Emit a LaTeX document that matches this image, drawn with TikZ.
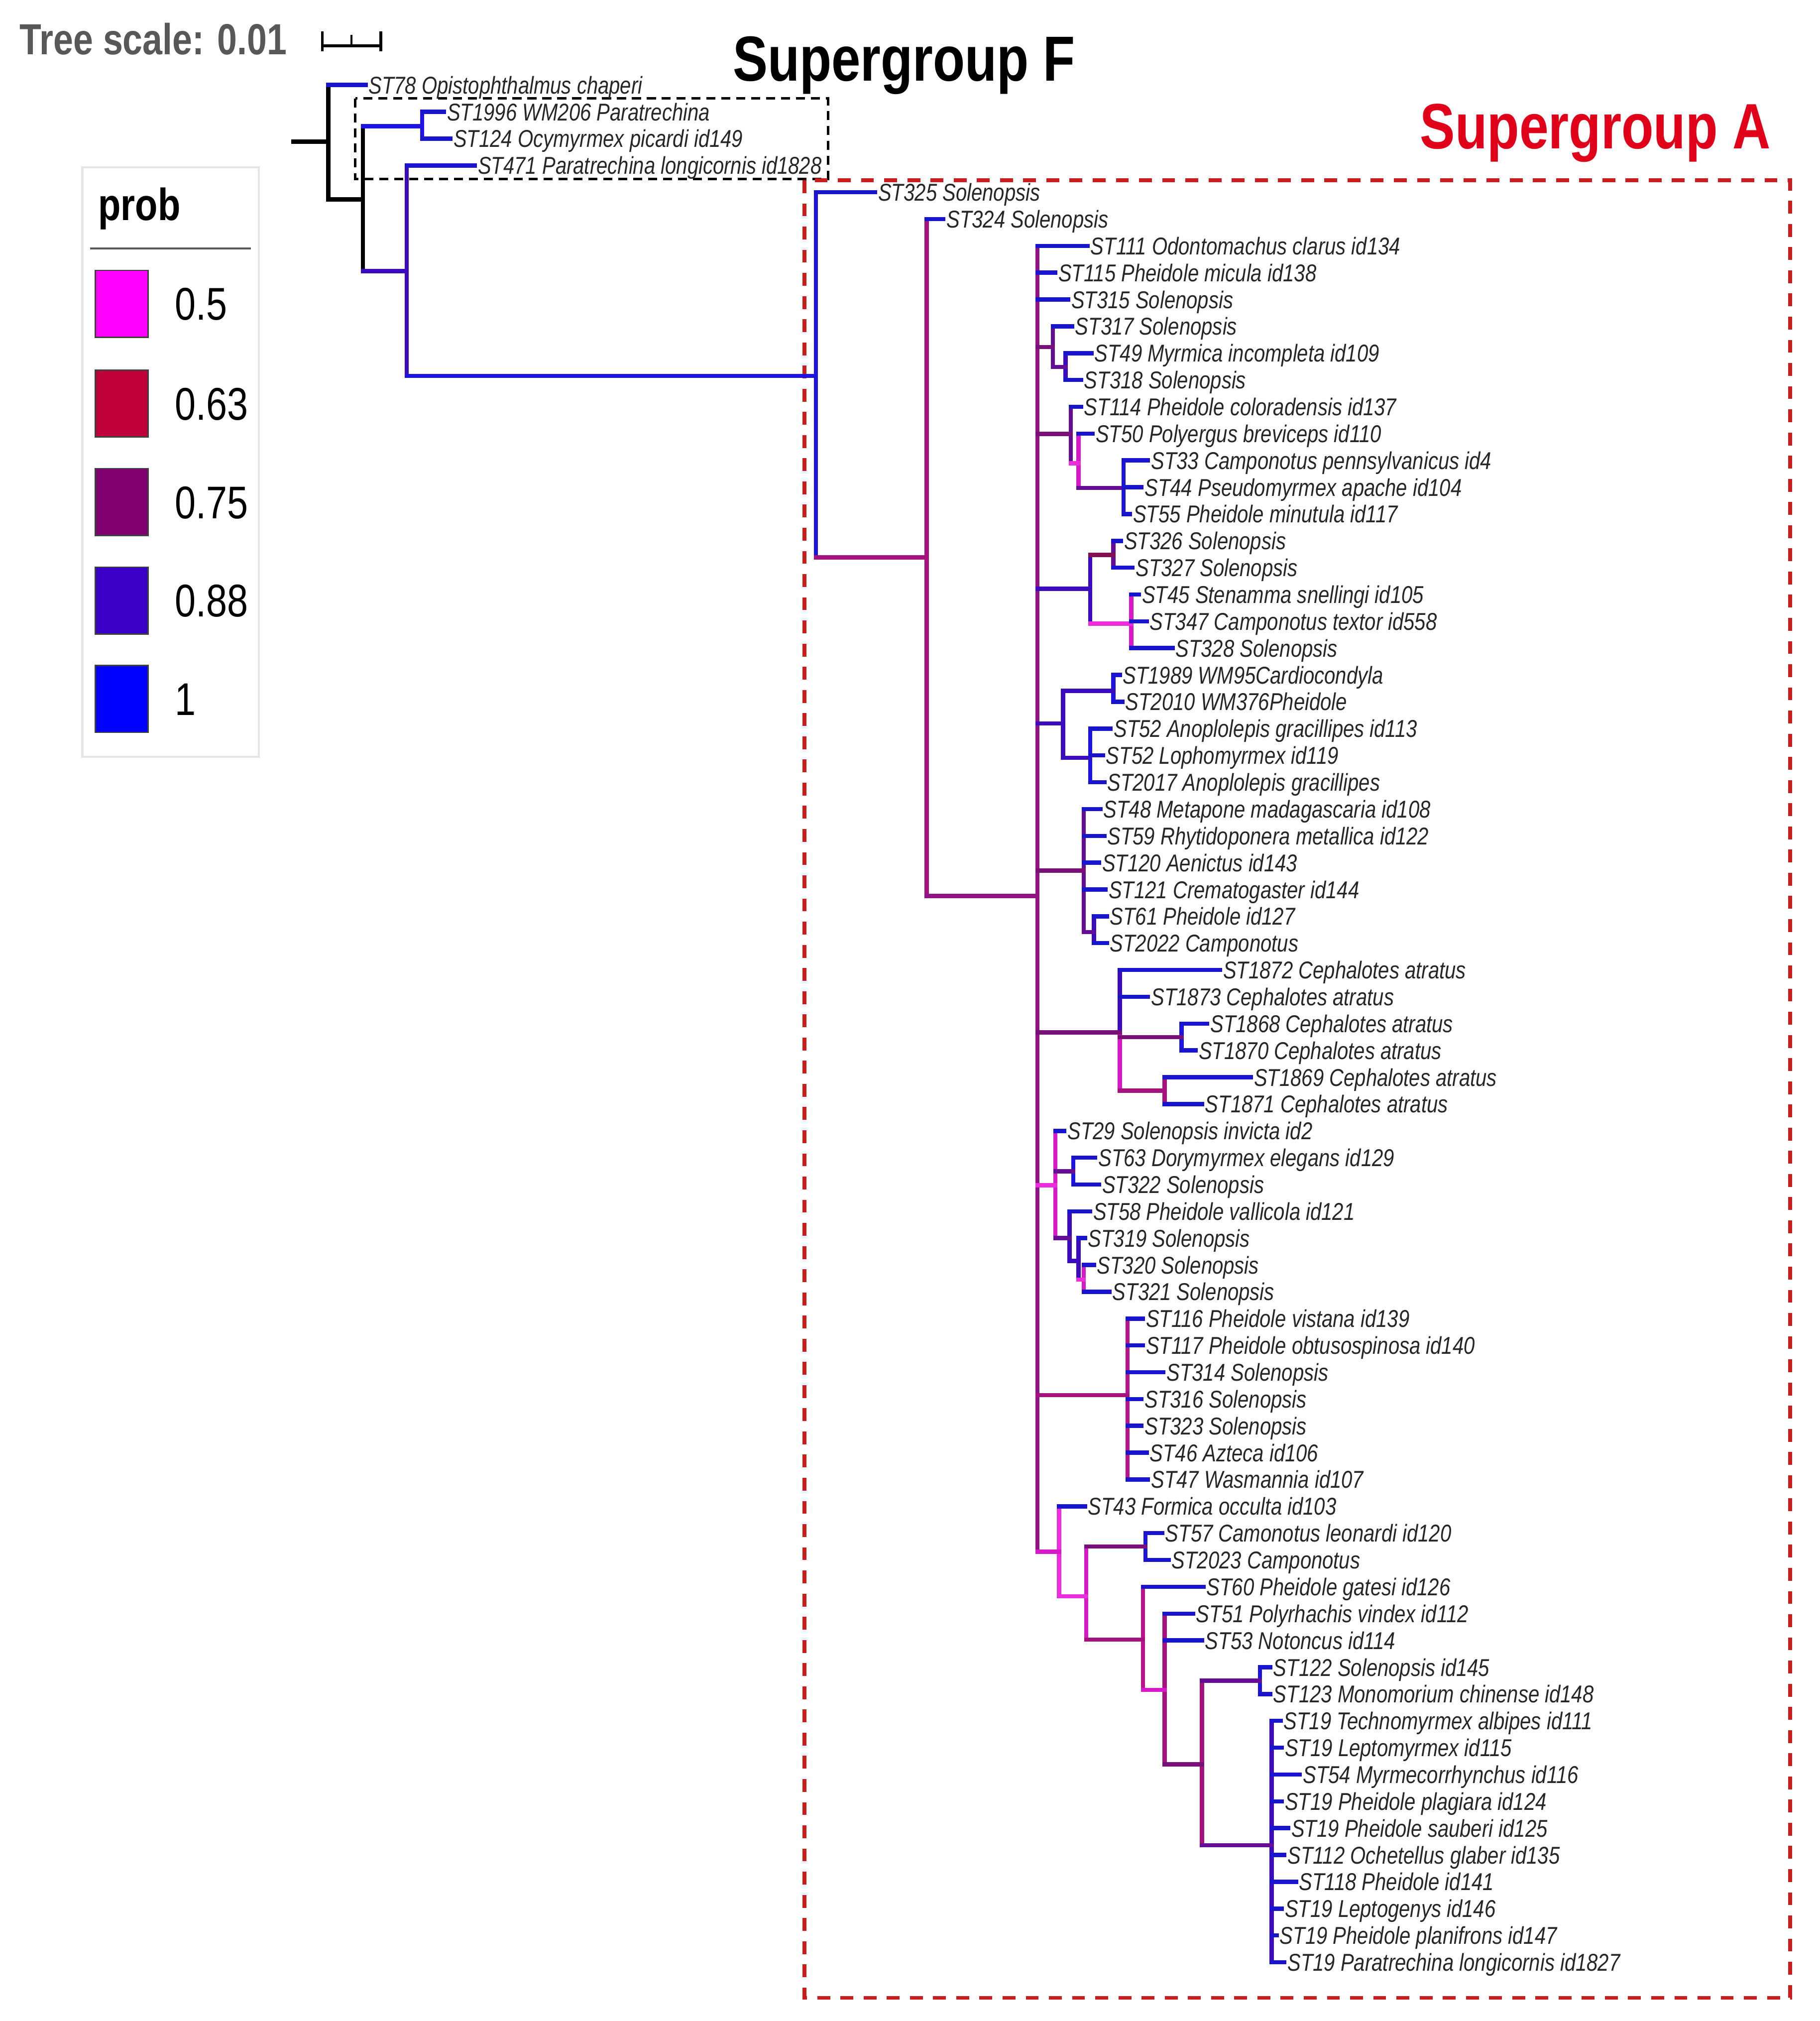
\documentclass[tikz,border=0pt]{standalone}
\usepackage{fontspec}
\setmainfont{Liberation Sans}[FakeStretch=0.82]
\definecolor{lf}{RGB}{25,20,205}
\definecolor{bl}{RGB}{30,20,225}
\definecolor{ind}{RGB}{58,12,190}
\definecolor{pu}{RGB}{100,14,150}
\definecolor{dp}{RGB}{120,16,120}
\definecolor{cp}{RGB}{145,18,130}
\definecolor{mp}{RGB}{165,18,125}
\definecolor{mq}{RGB}{185,20,140}
\definecolor{mg}{RGB}{215,25,200}
\definecolor{pk}{RGB}{235,45,220}
\definecolor{dr}{RGB}{130,16,80}
\definecolor{cA}{RGB}{255,0,255}
\definecolor{cB}{RGB}{192,0,58}
\definecolor{cC}{RGB}{128,0,112}
\definecolor{cD}{RGB}{58,0,200}
\definecolor{cE}{RGB}{0,0,255}
\definecolor{sgred}{RGB}{225,0,25}
\definecolor{boxred}{RGB}{200,30,30}
\definecolor{tsgray}{RGB}{88,88,88}
\newcommand\leafnode[3]{\node[leaflab] (L#1) at (#2,{66+20.8333*#1}) {#3};}
\newcommand\hbr[3]{\draw[br,#3] (#1 |- #2) -- (#2);}
\newcommand\vbr[4]{\draw[br,#4] (#1 |- #2) -- (#1 |- #3);}
\begin{document}
\begin{tikzpicture}[x=0.5pt,y=-0.5pt,
  br/.style={line width=1.65pt,line cap=rect},
  leaflab/.style={anchor=west,inner xsep=1pt,inner ysep=0pt,text height=6.77pt,text depth=0pt,
    font=\fontsize{9.45}{11}\selectfont\itshape,text=black!85},
  legnum/.style={anchor=west,inner sep=0pt,text height=12.7pt,text depth=0pt,
    font=\fontsize{17.8}{20}\selectfont},
  sq/.style={draw=black!75,line width=0.5pt,minimum width=20.5pt,minimum height=26pt,inner sep=0pt}]
\useasboundingbox (0,0) rectangle (1414,1570);

% ---------- header texts ----------
\node[anchor=base west,inner sep=0pt,font=\bfseries\fontsize{16.9}{20}\selectfont,text=tsgray] (ts) at (15,42.5) {Tree scale: 0.01};
\draw[line width=1.1pt] (250.5,35.5) -- (296,35.5);
\draw[line width=1.1pt] (250.5,24.5) -- (250.5,40);
\draw[line width=1.1pt] (296,24.5) -- (296,40);
\draw[line width=0.8pt] (273,27) -- (273,35.5);
\node[anchor=base west,inner sep=0pt,font=\bfseries\fontsize{24.75}{28}\selectfont] (sgF) at (569,63) {Supergroup F};
\node[anchor=base west,inner sep=0pt,font=\bfseries\fontsize{24.9}{28}\selectfont,text=sgred] (sgA) at (1103,115.5) {Supergroup A};

% ---------- legend ----------
\draw[black!10,line width=0.8pt] (64,130) rectangle (201,588);
\node[anchor=base west,inner sep=0pt,font=\bfseries\fontsize{17.5}{20}\selectfont] (prob) at (76,171) {prob};
\draw[black!65,line width=0.9pt] (70,193) -- (195,193);
\node[sq,fill=cA] (s1) at (94.5,236) {};
\node[sq,fill=cB] (s2) at (94.5,313.5) {};
\node[sq,fill=cC] (s3) at (94.5,390) {};
\node[sq,fill=cD] (s4) at (94.5,466.5) {};
\node[sq,fill=cE] (s5) at (94.5,543) {};
\node[legnum] (t1) at (135.5,236) {0.5};
\node[legnum] (t2) at (135.5,313.5) {0.63};
\node[legnum] (t3) at (135.5,390) {0.75};
\node[legnum] (t4) at (135.5,466.5) {0.88};
\node[legnum] (t5) at (135.5,543) {1};

% ---------- supergroup boxes ----------
\draw[black,line width=1pt,dash pattern=on 3.5pt off 2.3pt] (276,76.5) rectangle (643.5,139);
\draw[boxred,line width=1.5pt,dash pattern=on 5pt off 4pt] (625,140) rectangle (1391,1552);

% ---------- leaves ----------
\leafnode{0}{284}{ST78 Opistophthalmus chaperi}
\leafnode{1}{345}{ST1996 WM206 Paratrechina}
\leafnode{2}{350}{ST124 Ocymyrmex picardi id149}
\leafnode{3}{369}{ST471 Paratrechina longicornis id1828}
\leafnode{4}{680}{ST325 Solenopsis}
\leafnode{5}{733}{ST324 Solenopsis}
\leafnode{6}{845}{ST111 Odontomachus clarus id134}
\leafnode{7}{820}{ST115 Pheidole micula id138}
\leafnode{8}{830}{ST315 Solenopsis}
\leafnode{9}{833}{ST317 Solenopsis}
\leafnode{10}{848}{ST49 Myrmica incompleta id109}
\leafnode{11}{840}{ST318 Solenopsis}
\leafnode{12}{840}{ST114 Pheidole coloradensis id137}
\leafnode{13}{849}{ST50 Polyergus breviceps id110}
\leafnode{14}{892}{ST33 Camponotus pennsylvanicus id4}
\leafnode{15}{887}{ST44 Pseudomyrmex apache id104}
\leafnode{16}{878}{ST55 Pheidole minutula id117}
\leafnode{17}{871}{ST326 Solenopsis}
\leafnode{18}{880}{ST327 Solenopsis}
\leafnode{19}{885}{ST45 Stenamma snellingi id105}
\leafnode{20}{891}{ST347 Camponotus textor id558}
\leafnode{21}{911}{ST328 Solenopsis}
\leafnode{22}{870}{ST1989 WM95Cardiocondyla}
\leafnode{23}{872}{ST2010 WM376Pheidole}
\leafnode{24}{863}{ST52 Anoplolepis gracillipes id113}
\leafnode{25}{857}{ST52 Lophomyrmex id119}
\leafnode{26}{858}{ST2017 Anoplolepis gracillipes}
\leafnode{27}{855}{ST48 Metapone madagascaria id108}
\leafnode{28}{858}{ST59 Rhytidoponera metallica id122}
\leafnode{29}{854}{ST120 Aenictus id143}
\leafnode{30}{859}{ST121 Crematogaster id144}
\leafnode{31}{860}{ST61 Pheidole id127}
\leafnode{32}{860}{ST2022 Camponotus}
\leafnode{33}{948}{ST1872 Cephalotes atratus}
\leafnode{34}{892}{ST1873 Cephalotes atratus}
\leafnode{35}{938}{ST1868 Cephalotes atratus}
\leafnode{36}{929}{ST1870 Cephalotes atratus}
\leafnode{37}{972}{ST1869 Cephalotes atratus}
\leafnode{38}{934}{ST1871 Cephalotes atratus}
\leafnode{39}{827}{ST29 Solenopsis invicta id2}
\leafnode{40}{851}{ST63 Dorymyrmex elegans id129}
\leafnode{41}{854}{ST322 Solenopsis}
\leafnode{42}{847}{ST58 Pheidole vallicola id121}
\leafnode{43}{843}{ST319 Solenopsis}
\leafnode{44}{850}{ST320 Solenopsis}
\leafnode{45}{862}{ST321 Solenopsis}
\leafnode{46}{888}{ST116 Pheidole vistana id139}
\leafnode{47}{888}{ST117 Pheidole obtusospinosa id140}
\leafnode{48}{904}{ST314 Solenopsis}
\leafnode{49}{887}{ST316 Solenopsis}
\leafnode{50}{887}{ST323 Solenopsis}
\leafnode{51}{891}{ST46 Azteca id106}
\leafnode{52}{892}{ST47 Wasmannia id107}
\leafnode{53}{843}{ST43 Formica occulta id103}
\leafnode{54}{903}{ST57 Camonotus leonardi id120}
\leafnode{55}{908}{ST2023 Camponotus}
\leafnode{56}{935}{ST60 Pheidole gatesi id126}
\leafnode{57}{927}{ST51 Polyrhachis vindex id112}
\leafnode{58}{934}{ST53 Notoncus id114}
\leafnode{59}{987}{ST122 Solenopsis id145}
\leafnode{60}{987}{ST123 Monomorium chinense id148}
\leafnode{61}{995}{ST19 Technomyrmex albipes id111}
\leafnode{62}{996}{ST19 Leptomyrmex id115}
\leafnode{63}{1010}{ST54 Myrmecorrhynchus id116}
\leafnode{64}{996}{ST19 Pheidole plagiara id124}
\leafnode{65}{1001}{ST19 Pheidole sauberi id125}
\leafnode{66}{998}{ST112 Ochetellus glaber id135}
\leafnode{67}{1007}{ST118 Pheidole id141}
\leafnode{68}{996}{ST19 Leptogenys id146}
\leafnode{69}{992}{ST19 Pheidole planifrons id147}
\leafnode{70}{998}{ST19 Paratrechina longicornis id1827}

% ---------- internal nodes ----------
\coordinate (rs) at (228,110);
\coordinate (r0) at (255,110);
\coordinate (nF1) at (282,155);
\coordinate (nF2) at (328,98);
\coordinate (nF3) at (316,210.7);
\coordinate (nA) at (634,292);
\coordinate (nB) at (720,433);
\coordinate (nC) at (806,696);
\coordinate (n317) at (818,269.6);
\coordinate (n49) at (828,285);
\coordinate (n114) at (832,337);
\coordinate (n50) at (838,360);
\coordinate (n33) at (873,379);
\coordinate (n326) at (847,457.3);
\coordinate (n326a) at (865,431);
\coordinate (n45) at (879,484.4);
\coordinate (n1989) at (826,562);
\coordinate (nWM) at (865,536.6);
\coordinate (n52) at (847,588.7);
\coordinate (n48) at (842,676.4);
\coordinate (n61) at (850,724);
\coordinate (nCe) at (870,802);
\coordinate (n1868) at (918,805.6);
\coordinate (n1869) at (905,847.3);
\coordinate (n29) at (820,920.7);
\coordinate (n63) at (834,910);
\coordinate (n58) at (831,961.7);
\coordinate (n319) at (838,979.5);
\coordinate (n320) at (842,994);
\coordinate (n116) at (876,1083.8);
\coordinate (nBot) at (823,1205.5);
\coordinate (nB2) at (844,1240);
\coordinate (n57) at (890,1201.4);
\coordinate (n60) at (888,1273.7);
\coordinate (n51) at (905,1312.7);
\coordinate (n122b) at (934,1370.5);
\coordinate (n122) at (979,1305.6);
\coordinate (n19) at (988,1433.5);

% ---------- verticals ----------
\vbr{r0}{L0}{nF1}{black}
\vbr{nF1}{nF2}{nF3}{black}
\vbr{nF2}{L1}{L2}{bl}
\vbr{nF3}{L3}{nA}{ind}
\vbr{nA}{L4}{nB}{bl}
\vbr{nB}{L5}{nC}{mp}
\vbr{nC}{L6}{nBot}{cp}
\vbr{n317}{L9}{n49}{pu}
\vbr{n49}{L10}{L11}{ind}
\vbr{n114}{L12}{n50}{pu}
\vbr{n50}{L13}{n33}{mg}
\vbr{n33}{L14}{L16}{bl}
\vbr{n326}{n326a}{n45}{ind}
\vbr{n326a}{L17}{L18}{pu}
\vbr{n45}{L19}{L21}{mg}
\vbr{n1989}{nWM}{n52}{ind}
\vbr{nWM}{L22}{L23}{bl}
\vbr{n52}{L24}{L26}{bl}
\vbr{n48}{L27}{n61}{pu}
\vbr{n61}{L31}{L32}{ind}
\vbr{nCe}{L33}{nCe}{ind}
\vbr{nCe}{nCe}{n1869}{mg}
\vbr{n1868}{L35}{L36}{bl}
\vbr{n1869}{L37}{L38}{mp}
\vbr{n29}{L39}{n58}{mg}
\vbr{n63}{L40}{L41}{bl}
\vbr{n58}{L42}{n319}{ind}
\vbr{n319}{L43}{n320}{ind}
\vbr{n320}{L44}{L45}{mg}
\vbr{n116}{L46}{L52}{mq}
\vbr{nBot}{L53}{nB2}{pk}
\vbr{nB2}{n57}{n60}{mg}
\vbr{n57}{L54}{L55}{bl}
\vbr{n60}{L56}{n51}{mq}
\vbr{n51}{L57}{n122b}{mp}
\vbr{n122b}{n122}{n19}{mp}
\vbr{n122}{L59}{L60}{bl}
\vbr{n19}{L61}{L70}{ind}

% ---------- horizontals ----------
\draw[br,black] (rs) -- (r0);
\hbr{r0}{L0}{lf}
\hbr{r0}{nF1}{black}
\hbr{nF1}{nF2}{bl}
\hbr{nF1}{nF3}{ind}
\hbr{nF2}{L1}{lf}
\hbr{nF2}{L2}{lf}
\hbr{nF3}{L3}{lf}
\hbr{nF3}{nA}{bl}
\hbr{nA}{L4}{lf}
\hbr{nA}{nB}{mp}
\hbr{nB}{L5}{lf}
\hbr{nB}{nC}{cp}
\hbr{nC}{L6}{lf}
\hbr{nC}{L7}{lf}
\hbr{nC}{L8}{lf}
\hbr{nC}{n317}{dp}
\hbr{nC}{n114}{dp}
\hbr{nC}{n326}{ind}
\hbr{nC}{n1989}{ind}
\hbr{nC}{n48}{dp}
\hbr{nC}{nCe}{dp}
\hbr{nC}{n29}{pk}
\hbr{nC}{n116}{mp}
\hbr{nC}{nBot}{mg}
\hbr{n317}{L9}{lf}
\hbr{n317}{n49}{pu}
\hbr{n49}{L10}{lf}
\hbr{n49}{L11}{lf}
\hbr{n114}{L12}{lf}
\hbr{n114}{n50}{pk}
\hbr{n50}{L13}{lf}
\hbr{n50}{n33}{pu}
\hbr{n33}{L14}{lf}
\hbr{n33}{L15}{lf}
\hbr{n33}{L16}{lf}
\hbr{n326}{n326a}{dr}
\hbr{n326}{n45}{pk}
\hbr{n326a}{L17}{lf}
\hbr{n326a}{L18}{lf}
\hbr{n45}{L19}{lf}
\hbr{n45}{L20}{lf}
\hbr{n45}{L21}{lf}
\hbr{n1989}{nWM}{ind}
\hbr{n1989}{n52}{ind}
\hbr{nWM}{L22}{lf}
\hbr{nWM}{L23}{lf}
\hbr{n52}{L24}{lf}
\hbr{n52}{L25}{lf}
\hbr{n52}{L26}{lf}
\hbr{n48}{L27}{lf}
\hbr{n48}{L28}{lf}
\hbr{n48}{L29}{lf}
\hbr{n48}{L30}{lf}
\hbr{n48}{n61}{pu}
\hbr{n61}{L31}{lf}
\hbr{n61}{L32}{lf}
\hbr{nCe}{L33}{lf}
\hbr{nCe}{L34}{lf}
\hbr{nCe}{n1868}{dp}
\hbr{nCe}{n1869}{mp}
\hbr{n1868}{L35}{lf}
\hbr{n1868}{L36}{lf}
\hbr{n1869}{L37}{lf}
\hbr{n1869}{L38}{lf}
\hbr{n29}{L39}{lf}
\hbr{n29}{n63}{pu}
\hbr{n29}{n58}{pu}
\hbr{n63}{L40}{lf}
\hbr{n63}{L41}{lf}
\hbr{n58}{L42}{lf}
\hbr{n58}{n319}{ind}
\hbr{n319}{L43}{lf}
\hbr{n319}{n320}{pk}
\hbr{n320}{L44}{lf}
\hbr{n320}{L45}{lf}
\hbr{n116}{L46}{lf}
\hbr{n116}{L47}{lf}
\hbr{n116}{L48}{lf}
\hbr{n116}{L49}{lf}
\hbr{n116}{L50}{lf}
\hbr{n116}{L51}{lf}
\hbr{n116}{L52}{lf}
\hbr{nBot}{L53}{lf}
\hbr{nBot}{nB2}{pk}
\hbr{nB2}{n57}{dp}
\hbr{nB2}{n60}{mp}
\hbr{n57}{L54}{lf}
\hbr{n57}{L55}{lf}
\hbr{n60}{L56}{lf}
\hbr{n60}{n51}{mg}
\hbr{n51}{L57}{lf}
\hbr{n51}{L58}{lf}
\hbr{n51}{n122b}{dp}
\hbr{n122b}{n122}{pu}
\hbr{n122b}{n19}{pu}
\hbr{n122}{L59}{lf}
\hbr{n122}{L60}{lf}
\hbr{n19}{L61}{lf}
\hbr{n19}{L62}{lf}
\hbr{n19}{L63}{lf}
\hbr{n19}{L64}{lf}
\hbr{n19}{L65}{lf}
\hbr{n19}{L66}{lf}
\hbr{n19}{L67}{lf}
\hbr{n19}{L68}{lf}
\hbr{n19}{L69}{lf}
\hbr{n19}{L70}{lf}
\end{tikzpicture}
\end{document}
